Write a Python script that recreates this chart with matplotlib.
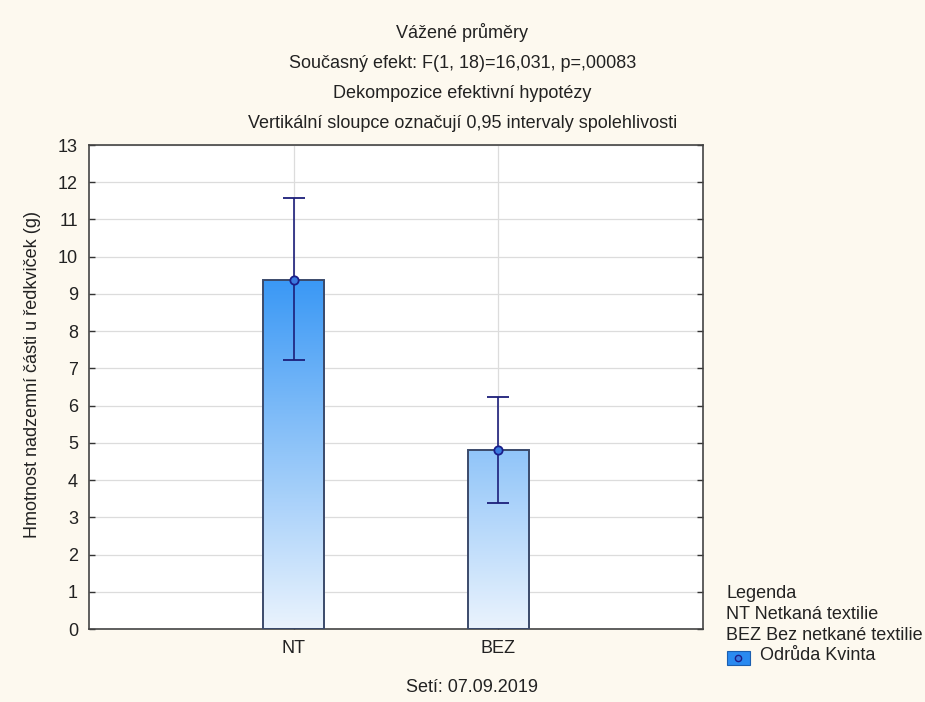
import numpy as np
import matplotlib
matplotlib.use("Agg")
import matplotlib.pyplot as plt
from matplotlib.colors import LinearSegmentedColormap
from matplotlib.patches import Rectangle
from matplotlib.lines import Line2D

plt.rcParams['font.family'] = ['Liberation Sans', 'DejaVu Sans']

categories = ["NT", "BEZ"]
means = [9.38, 4.81]
ci_low = [7.23, 3.39]
ci_high = [11.58, 6.24]

title_lines = ["Vážené průměry",
               "Současný efekt: F(1, 18)=16,031, p=,00083",
               "Dekompozice efektivní hypotézy",
               "Vertikální sloupce označují 0,95 intervaly spolehlivosti"]
y_label = "Hmotnost nadzemní části u ředkviček (g)"
x_label = "Setí: 07.09.2019"
legend_lines = ["Legenda", "NT Netkaná textilie", "BEZ Bez netkané textilie"]
series_name = "Odrůda Kvinta"

W, H = 925, 702
bg = "#fdf9ef"
fs = 13

fig = plt.figure(figsize=(W / 100, H / 100), dpi=100, facecolor=bg)
ax = fig.add_axes([89 / W, 1 - 629 / H, (703 - 89) / W, (629 - 145) / H])
ax.set_facecolor("white")

x = np.arange(len(categories))
ax.set_yticks(range(0, 14))
ax.set_xticks(x)
ax.set_xticklabels(categories)
ax.grid(True, color="#dcdcdc", linewidth=0.9)
ax.set_axisbelow(True)
ax.tick_params(axis="both", direction="in", labelsize=fs, length=4, width=1,
               right=True, colors="#333333", labelcolor="#222222")
ax.tick_params(axis="x", pad=8)
ax.tick_params(axis="y", pad=8)
for s in ax.spines.values():
    s.set_color("#444444")
    s.set_linewidth(1.2)

# gradient fill, same scale for both bars
cmap = LinearSegmentedColormap.from_list("g", ["#eaf3fd", "#3a98f5"])
top = max(means)
grad = np.linspace(0, 1, 256).reshape(-1, 1)
width = 0.3
bars = ax.bar(x, means, width=width, facecolor="none", edgecolor="#3b4a6b",
              linewidth=1.4, zorder=3)
for b in bars:
    im = ax.imshow(grad, cmap=cmap, origin="lower", aspect="auto",
                   extent=[b.get_x(), b.get_x() + width, 0, top], zorder=2)
    im.set_clip_path(b)
ax.set_xlim(-1, 2)
ax.set_ylim(0, 13)

err = [np.array(means) - np.array(ci_low), np.array(ci_high) - np.array(means)]
ax.errorbar(x, means, yerr=err, fmt="o", color="#1c1f7a", ecolor="#1c1f7a",
            elinewidth=1.2, capsize=8, capthick=1.2, markersize=6,
            markerfacecolor="#3a7ae0", markeredgecolor="#1c1f8a",
            markeredgewidth=1.3, zorder=4)

for i, t in enumerate(title_lines):
    fig.text(0.5, 1 - (33 + 30 * i) / H, t, ha="center", va="center",
             fontsize=fs, color="#222222")
fig.text(472 / W, 1 - 687 / H, x_label, ha="center", va="center",
         fontsize=fs, color="#222222")
fig.text(33 / W, 1 - 375 / H, y_label, ha="center", va="center",
         rotation=90, fontsize=fs, color="#222222")

# legend drawn by hand below the right side
for i, t in enumerate(legend_lines):
    fig.text(726 / W, 1 - (594 + 20.5 * i) / H, t, ha="left", va="center",
             fontsize=fs, color="#222222")
fig.patches.append(Rectangle((727 / W, 1 - 665 / H), 23 / W, 14 / H,
                             transform=fig.transFigure, facecolor="#2a8af0",
                             edgecolor="#1c5fb0", linewidth=0.8))
fig.lines.append(Line2D([738 / W], [1 - 658 / H], transform=fig.transFigure,
                        marker="o", markersize=4.5, markerfacecolor="#3a7ae0",
                        markeredgecolor="#1c1f8a", markeredgewidth=1))
fig.text(760 / W, 1 - 655 / H, series_name, ha="left", va="center",
         fontsize=fs, color="#222222")

fig.savefig("out.png", dpi=100, facecolor=bg)
